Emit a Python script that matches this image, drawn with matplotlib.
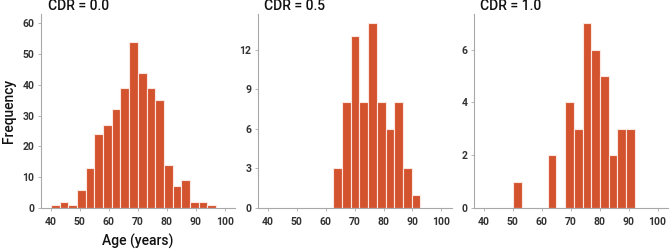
import matplotlib.pyplot as plt

# ---------------------------- data ----------------------------
titles = ['CDR = 0.0', 'CDR = 0.5', 'CDR = 1.0']

# left edge of each age bin (years), bins are 3 years wide
bins_cdr00 = [40, 43, 46, 49, 52, 55, 58, 61, 64, 67, 70, 73, 76, 79, 82, 85, 88, 91, 94]
counts_cdr00 = [1, 2, 1, 6, 13, 24, 27, 32, 39, 54, 44, 39, 35, 14, 7, 9, 2, 2, 1]

bins_cdr05 = [62.7, 65.7, 68.7, 71.7, 74.7, 77.7, 80.7, 83.7, 86.7, 89.7]
counts_cdr05 = [3, 8, 13, 8, 14, 8, 6, 8, 3, 1]

bins_cdr10 = [50.1, 53.1, 56.1, 59.1, 62.1, 65.1, 68.1, 71.1, 74.1, 77.1, 80.1, 83.1, 86.1, 89.1]
counts_cdr10 = [1, 0, 0, 0, 2, 0, 4, 3, 7, 6, 5, 2, 3, 3]

yticks = [[0, 10, 20, 30, 40, 50, 60], [0, 3, 6, 9, 12], [0, 2, 4, 6]]
ytops = [63, 14.7, 7.35]
xticks = [40, 50, 60, 70, 80, 90, 100]

panels = [(bins_cdr00, counts_cdr00), (bins_cdr05, counts_cdr05), (bins_cdr10, counts_cdr10)]

# ------------------------------------ plot ------------------------------------
plt.rcParams['font.family'] = ['Roboto', 'DejaVu Sans']

fig = plt.figure(figsize=(6.69, 2.5), dpi=100)
lefts = [0.061, 0.385, 0.708]
bar_color = '#d4532f'
spine_color = '#a8a8a8'

for i, (edges, counts) in enumerate(panels):
    ax = fig.add_axes([lefts[i], 0.168, 0.29, 0.776])
    ax.bar(edges, counts, width=3.0, align='edge', color=bar_color,
           edgecolor='#fbe6e0', linewidth=0.8, zorder=2)
    ax.set_xlim(36.5, 103.5)
    ax.set_ylim(0, ytops[i])
    ax.set_xticks(xticks)
    ax.set_yticks(yticks[i])
    for s in ['top', 'right']:
        ax.spines[s].set_visible(False)
    for s in ['left', 'bottom']:
        ax.spines[s].set_color(spine_color)
        ax.spines[s].set_linewidth(0.8)
    ax.tick_params(axis='both', length=2.5, width=0.6, color=spine_color,
                   labelsize=7.5, labelcolor='#333333', pad=2)
    ax.tick_params(axis='x', pad=4)
    for lab in ax.get_xticklabels() + ax.get_yticklabels():
        lab.set_fontweight('bold')
    ax.text(0.035, 1.04, titles[i], transform=ax.transAxes, fontsize=10,
            fontweight='medium', color='#111111', ha='left', va='center')
    if i == 0:
        ax.set_ylabel('Frequency', fontsize=10, fontweight='medium',
                      color='#111111', labelpad=5)
        ax.set_xlabel('Age (years)', fontsize=10, fontweight='medium',
                      color='#111111', labelpad=5)

fig.savefig('out.png', dpi=100)
